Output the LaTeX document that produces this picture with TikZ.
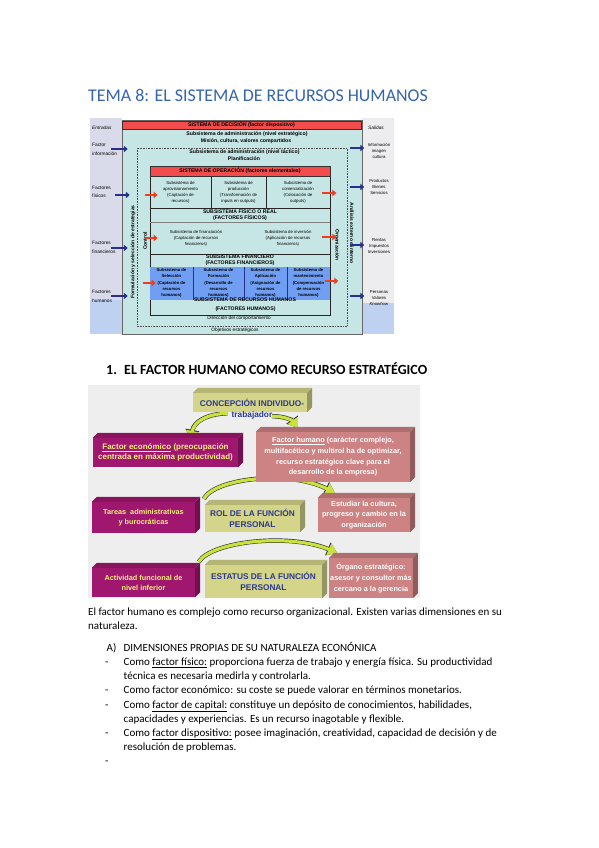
\documentclass[tikz,border=0pt]{standalone}
\usepackage{fontspec}
\setmainfont{Carlito}
\newfontfamily\arialfont{Liberation Sans}
\usepackage{tikz}
\usetikzlibrary{arrows.meta,positioning,calc,backgrounds}

\definecolor{TitleBlue}{HTML}{3565AE}
\definecolor{SysTeal}{HTML}{C6E6E6}
\definecolor{SysRed}{HTML}{F24C4C}
\definecolor{SysBlue}{HTML}{6F9EF2}
\definecolor{SysNavy}{HTML}{27308C}
\definecolor{SysArrowRed}{HTML}{EC3F1E}
\definecolor{SideLilac}{HTML}{D9DBEA}
\definecolor{SideGray}{HTML}{EDEDEF}
\definecolor{SideBlue}{HTML}{BFD1F1}
\definecolor{FacMagenta}{HTML}{A0176F}
\definecolor{FacRose}{HTML}{CD8283}
\definecolor{FacKhaki}{HTML}{D5D58A}
\definecolor{FacYellow}{HTML}{F5F07C}
\definecolor{FacInk}{HTML}{2A3990}
\definecolor{SwooshGreen}{HTML}{C9E33C}
\definecolor{PanelGray}{HTML}{EEEEEE}

\tikzset{
    % Page text
    titletext/.style={
        anchor=base west,
        inner sep=0pt,
        text=TitleBlue,
        font=\fontsize{17.9}{20}\selectfont
    },
    bodytext/.style={
        anchor=base west,
        inner sep=0pt,
        font=\fontsize{11}{13}\selectfont
    },
    headtext/.style={
        bodytext,
        font=\fontsize{14}{16}\selectfont\bfseries
    },
    % System diagram labels
    syslabel/.style={
        inner sep=0pt,
        align=center,
        font=\arialfont\bfseries\fontsize{5.2}{6.4}\selectfont
    },
    sysbar/.style={
        syslabel,
        draw=black!80,
        fill=SysRed,
        line width=0.5pt
    },
    syscell/.style={
        inner sep=0pt,
        align=center,
        font=\arialfont\fontsize{4.3}{6}\selectfont
    },
    hrcell/.style={
        syscell,
        font=\arialfont\bfseries\fontsize{4.2}{6.2}\selectfont
    },
    sidetext/.style={
        anchor=west,
        inner sep=0pt,
        align=left,
        font=\arialfont\fontsize{4.8}{8.5}\selectfont
    },
    outtext/.style={
        inner sep=0pt,
        align=center,
        font=\arialfont\fontsize{4.3}{6.4}\selectfont
    },
    vertlabel/.style={
        syslabel,
        font=\arialfont\bfseries\fontsize{5}{6}\selectfont
    },
    % Arrow styles
    inarrow/.style={
        -{Triangle[length=4pt,width=6.5pt]},
        line width=2.3pt,
        draw=SysNavy
    },
    redarrow/.style={
        -{Triangle[length=4pt,width=6.5pt]},
        line width=2.3pt,
        draw=SysArrowRed
    },
    % Human factor boxes
    facbox/.style={
        inner sep=1pt,
        align=center,
        font=\arialfont\bfseries\fontsize{7.3}{10}\selectfont
    },
    magentabox/.style={
        facbox,
        fill=FacMagenta,
        text=FacYellow
    },
    rosebox/.style={
        facbox,
        fill=FacRose,
        text=white,
        font=\arialfont\bfseries\fontsize{7.3}{10.7}\selectfont
    },
    khakibox/.style={
        facbox,
        fill=FacKhaki,
        text=FacInk,
        font=\arialfont\bfseries\fontsize{8.3}{10.5}\selectfont
    },
    % Curved green arrows
    swoosh/.style={
        draw=SwooshGreen,
        line width=3.2pt,
        -{Triangle[length=9pt,width=12pt]},
        preaction={draw=black!80, line width=4.4pt, -{Triangle[length=10pt,width=13.5pt]}}
    }
}

% top and side faces of a raised box
\newcommand{\boxfaces}[2]{%
    \fill[#2!85!black] (#1.north west) -- ++(5,-5) -- ($(#1.north east)+(5,-5)$) -- (#1.north east) -- cycle;
    \fill[#2!70!black] (#1.north east) -- ++(5,-5) -- ($(#1.south east)+(5,-5)$) -- (#1.south east) -- cycle;
}

\begin{document}
\begin{tikzpicture}[x=1pt, y=-1pt]
    \useasboundingbox (0,0) rectangle (599,848);
    \begin{scope}[on background layer]
        \fill[white] (0,0) rectangle (599,848);
        \fill[PanelGray] (88,385) rectangle (420,598);
    \end{scope}

    % Title
    \node[titletext] (title) at (88,101.5) {TEMA 8: EL SISTEMA DE RECURSOS HUMANOS};

    % ---------- System diagram ----------
    \fill[SideLilac] (90,118) rectangle (122,334);
    \fill[SideBlue] (90,300) rectangle (122,334);
    \fill[SideGray] (362,118) rectangle (394,334);
    \fill[SideBlue] (362,303) rectangle (394,334);

    \node[draw=black!60, fill=SysTeal, line width=0.5pt, minimum width=240pt, minimum height=214pt, inner sep=0pt] (sysbox) at (242,227) {};
    \node[sysbar, minimum width=239pt, minimum height=8pt] (decision) at (241.5,125) {SISTEMA DE DECISIÓN (factor dispositivo)};
    \node[syslabel] (strat) at (247,134) {Subsistema de administración (nivel estratégico)};
    \node[syslabel] (mision) at (246,141.5) {Misión, cultura, valores compartidos};

    % dotted frame
    \draw[black!70, densely dotted, line width=0.6pt] (137,148) rectangle (347,326);
    \node[syslabel] (tact) at (244.5,152.5) {Subsistema de administración (nivel táctico)};
    \node[syslabel] (plan) at (244,159) {Planificación};

    % operating system
    \node[draw=black!85, line width=0.7pt, minimum width=180pt, minimum height=149pt, inner sep=0pt] (opsbox) at (240,240.5) {};
    \node[sysbar, minimum width=180pt, minimum height=10pt] (opsbar) at (240,171) {SISTEMA DE OPERACIÓN (factores elementales)};
    \draw[black!85, line width=0.6pt] (211,176) -- (211,208);
    \draw[black!85, line width=0.6pt] (266,176) -- (266,208);
    \draw[black!85, line width=0.6pt] (opsbox.west |- 0,208) -- (opsbox.east |- 0,208);
    \draw[black!50, line width=0.4pt] (opsbox.west |- 0,222) -- (opsbox.east |- 0,222);
    \draw[black!85, line width=0.6pt] (opsbox.west |- 0,254) -- (opsbox.east |- 0,254);

    \node[syscell] (aprov) at (180.5,192) {Subsistema de\\aprovisionamiento\\(Captación de\\recursos)};
    \node[syscell] (prod) at (238.5,192) {Subsistema de\\producción\\(Transformación de\\inputs en outputs)};
    \node[syscell] (comer) at (298,192) {Subsistema de\\comercialización\\(Colocación de\\outputs)};

    \node[syslabel] (fisico) at (240,215) {SUBSISTEMA FÍSICO O REAL\\(FACTORES FÍSICOS)};
    \node[syscell] (finan) at (196,238) {Subsistema de financiación\\(Captación de recursos\\financieros)};
    \node[syscell] (inver) at (288,238) {Subsistema de inversión\\(Aplicación de recursos\\financieros)};
    \node[syslabel] (financ) at (240,260.5) {SUBSISTEMA FINANCIERO\\(FACTORES FINANCIEROS)};

    % human resources row
    \node[fill=SysBlue, minimum width=180pt, minimum height=33pt, inner sep=0pt] (hrrow) at (240,283.5) {};
    \draw[SysNavy, line width=0.6pt] (193,267) -- (193,300);
    \draw[SysNavy, line width=0.6pt] (244,267) -- (244,300);
    \draw[SysNavy, line width=0.6pt] (287,267) -- (287,300);
    \node[hrcell] (selec) at (171.5,283) {Subsistema de\\Selección\\(Captación de\\recursos\\humanos)};
    \node[hrcell] (forma) at (218.5,283) {Subsistema de\\Formación\\(Desarrollo de\\recursos\\humanos)};
    \node[hrcell] (aplic) at (265.5,283) {Subsistema de\\Aplicación\\(Asignación de\\recursos\\humanos)};
    \node[hrcell] (mant) at (308.5,283) {Subsistema de\\mantenimiento\\(Compensación\\de recursos\\humanos)};
    \node[syslabel] (hrtitle) at (245,299.5) {SUBSISTEMA DE RECURSOS HUMANOS};
    \node[syslabel] (hrfact) at (245.5,309.5) {(FACTORES HUMANOS)};

    \node[syslabel, font=\arialfont\fontsize{4.8}{6}\selectfont] (direc) at (239,318.5) {Dirección del comportamiento};
    \node[syslabel, font=\arialfont\fontsize{4.8}{6}\selectfont] (objet) at (235,330) {Objetivos estratégicos};

    % vertical labels
    \node[vertlabel, rotate=90] (formul) at (133,252) {Formulación y selección de estrategias};
    \node[vertlabel, rotate=90] (control) at (145,241) {Control};
    \node[vertlabel, rotate=-90] (organiz) at (337,245) {Organización};
    \node[vertlabel, rotate=-90] (analisis) at (352,233) {Análisis externo e interno};

    % inputs and outputs
    \node[sidetext, font=\arialfont\itshape\fontsize{4.8}{6}\selectfont] (entradas) at (92,128) {Entradas};
    \node[sidetext] (lblinfo) at (92,149.5) {Factor\\información};
    \node[sidetext] (lblfis) at (92,192) {Factores\\físicos};
    \node[sidetext] (lblfin) at (92,247.5) {Factores\\financieros};
    \node[sidetext] (lblhum) at (92,296.5) {Factores\\humanos};

    \node[outtext, font=\arialfont\itshape\fontsize{4.8}{6}\selectfont] (salidas) at (376,128) {Salidas};
    \node[outtext] (lblimg) at (379,151) {Información\\imagen\\cultura};
    \node[outtext] (lblprod) at (379,187) {Productos\\Bienes\\Servicios};
    \node[outtext] (lblrent) at (379,246) {Rentas\\Impuestos\\Inversiones};
    \node[outtext] (lblpers) at (379,298) {Personas\\Valores\\\textit{Knowhow}};

    % arrow ends
    \coordinate (ininfo) at (111,149);
    \coordinate (infis) at (115,195);
    \coordinate (infin) at (111,248);
    \coordinate (inhum) at (111,296);
    \coordinate (outimg) at (350,148);
    \coordinate (outprod) at (350,187);
    \coordinate (outrent) at (350,245);
    \coordinate (outpers) at (350,296);
    \coordinate (raprov) at (145,195);
    \coordinate (rcomer) at (322,193);
    \coordinate (rfinan) at (145,238);
    \coordinate (rinver) at (322,237);
    \coordinate (rselec) at (143,283);
    \coordinate (rmant) at (325,281);

    % Arrows
    \draw[inarrow, shorten >=-6pt] (ininfo) -- (ininfo -| sysbox.west);
    \draw[inarrow, shorten >=-8pt] (infis) -- (infis -| sysbox.west);
    \draw[inarrow, shorten >=-6pt] (infin) -- (infin -| sysbox.west);
    \draw[inarrow, shorten >=-6pt] (inhum) -- (inhum -| sysbox.west);
    \draw[inarrow, shorten >=-2pt] (outimg) -- (outimg -| sysbox.east);
    \draw[inarrow, shorten >=-2pt] (outprod) -- (outprod -| sysbox.east);
    \draw[inarrow, shorten >=-2pt] (outrent) -- (outrent -| sysbox.east);
    \draw[inarrow, shorten >=-2pt] (outpers) -- (outpers -| sysbox.east);
    \draw[redarrow, shorten >=-8pt] (raprov) -- (raprov -| opsbox.west);
    \draw[redarrow, shorten >=-6pt] (rcomer) -- (rcomer -| opsbox.east);
    \draw[redarrow, shorten >=-8pt] (rfinan) -- (rfinan -| opsbox.west);
    \draw[redarrow, shorten >=-6pt] (rinver) -- (rinver -| opsbox.east);
    \draw[redarrow, shorten >=-6pt] (rselec) -- (rselec -| opsbox.west);
    \draw[redarrow, shorten >=-8pt] (rmant) -- (rmant -| opsbox.east);

    % Heading
    \node[headtext] (h1num) at (106,374.5) {1.};
    \node[headtext] (h1) at (124,374.5) {EL FACTOR HUMANO COMO RECURSO ESTRATÉGICO};

    % ---------- Human factor diagram ----------
    \begin{scope}
        \clip (88,385) rectangle (420,598);

        % Boxes
        \node[khakibox, minimum width=114pt, minimum height=19pt] (concep) at (250,402.5) {};
        \node[magentabox, minimum width=145pt, minimum height=29pt, font=\arialfont\bfseries\fontsize{8}{10}\selectfont] (fecon) at (165.5,452.5) {\underline{Factor económico} (preocupación\\centrada en máxima productividad)};
        \node[rosebox, minimum width=154pt, minimum height=50pt] (fhum) at (333,457) {\underline{Factor humano} (carácter complejo,\\multifacético y multirol ha de optimizar,\\recurso estratégico clave para el\\desarrollo de la empresa)};
        \node[magentabox, minimum width=103pt, minimum height=31pt] (tareas) at (143.5,517.5) {Tareas\ \ administrativas\\y burocráticas};
        \node[khakibox, minimum width=95pt, minimum height=27pt] (rol) at (252.5,518.5) {ROL DE LA FUNCIÓN\\PERSONAL};
        \node[rosebox, minimum width=92pt, minimum height=34pt] (estud) at (364,515) {Estudiar la cultura,\\progreso y cambio en la\\organización};
        \node[magentabox, minimum width=103pt, minimum height=29pt] (activ) at (143.5,582.5) {Actividad funcional de\\nivel inferior};
        \node[khakibox, minimum width=117pt, minimum height=33pt] (estat) at (263.5,581.5) {ESTATUS DE LA FUNCIÓN\\PERSONAL};
        \node[rosebox, minimum width=78pt, minimum height=40pt] (organo) at (371,578) {Órgano estratégico:\\asesor y consultor más\\cercano a la gerencia};

        \boxfaces{concep}{FacKhaki}
        \boxfaces{fecon}{FacMagenta}
        \boxfaces{fhum}{FacRose}
        \boxfaces{tareas}{FacMagenta}
        \boxfaces{rol}{FacKhaki}
        \boxfaces{estud}{FacRose}
        \boxfaces{activ}{FacMagenta}
        \boxfaces{estat}{FacKhaki}
        \boxfaces{organo}{FacRose}

        % text running out of the top box
        \node[khakibox, fill=none] (concepttext) at ($(concep.center)+(2,6.5)$) {CONCEPCIÓN INDIVIDUO-\\trabajador};
    \end{scope}

    % Curved arrows
    \begin{scope}[on background layer]
        \draw[swoosh] ($(concep.south west)+(35,1)$) .. controls (206,414) and (194,422) .. ($(fecon.north)+(25,2)$);
        \draw[swoosh] ($(concep.south)+(22,4)$) .. controls (285,416) and (293,421) .. ($(fhum.north west)+(42,-4)$);
        \draw[swoosh] ($(rol.north west)+(-1,-6)$) .. controls (215,478) and (290,470) .. ($(estud.north west)+(17,-5)$);
        \draw[swoosh] ($(estat.north west)+(-6,-3)$) .. controls (212,541) and (290,533) .. ($(organo.north west)+(8,-5)$);
    \end{scope}

    % ---------- Text ----------
    \node[bodytext] (par1) at (88,615) {El factor humano es complejo como recurso organizacional. Existen varias dimensiones en su};
    \node[bodytext] (par2) at (88,629) {naturaleza.};
    \node[bodytext] (secA) at (106.5,651.3) {A)};
    \node[bodytext] (secAtext) at (123.5,651.3) {DIMENSIONES PROPIAS DE SU NATURALEZA ECONÓNICA};

    \node[bodytext] (d1) at (105,665.7) {-};
    \node[bodytext] (b1) at (123.5,665.7) {Como \underline{factor físico:} proporciona fuerza de trabajo y energía física. Su productividad};
    \node[bodytext] (b1b) at (123.5,679.8) {técnica es necesaria medirla y controlarla.};
    \node[bodytext] (d2) at (105,693.9) {-};
    \node[bodytext] (b2) at (123.5,693.9) {Como factor económico: su coste se puede valorar en términos monetarios.};
    \node[bodytext] (d3) at (105,708) {-};
    \node[bodytext] (b3) at (123.5,708) {Como \underline{factor de capital:} constituye un depósito de conocimientos, habilidades,};
    \node[bodytext] (b3b) at (123.5,722.1) {capacidades y experiencias. Es un recurso inagotable y flexible.};
    \node[bodytext] (d4) at (105,736.2) {-};
    \node[bodytext] (b4) at (123.5,736.2) {Como \underline{factor dispositivo:} posee imaginación, creatividad, capacidad de decisión y de};
    \node[bodytext] (b4b) at (123.5,750.3) {resolución de problemas.};
    \node[bodytext] (d5) at (105,764.4) {-};
\end{tikzpicture}
\end{document}
